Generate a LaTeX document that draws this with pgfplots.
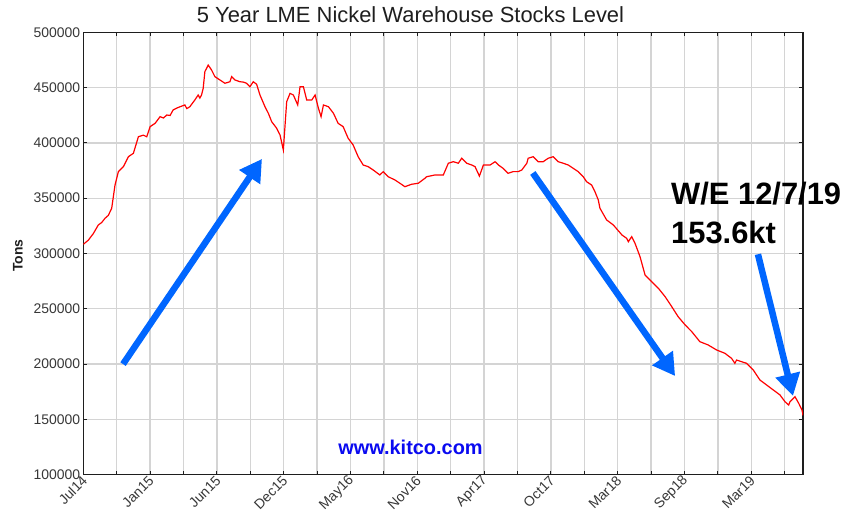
\documentclass[border=0pt]{standalone}
\usepackage{fontspec}
\setmainfont{Liberation Sans}
\usepackage{pgfplots}
\usepackage{pgfplotstable}
\pgfplotsset{compat=1.18}
\usetikzlibrary{arrows.meta}
\definecolor{arrowblue}{RGB}{0,102,255}
\definecolor{gridgray}{RGB}{212,212,212}
\definecolor{kitcoblue}{RGB}{10,10,240}
\definecolor{labgray}{RGB}{30,30,30}
\definecolor{tickgray}{RGB}{55,55,55}

% x: position in grid-line units (0 = Jul14, 2 = Jan15, ...), y: tons
\pgfplotstableread{
u val
0.00 308300
0.15 312000
0.30 318000
0.45 325800
0.55 328000
0.65 331800
0.75 334500
0.85 340900
0.95 362000
1.05 374000
1.20 378500
1.35 387500
1.50 390600
1.65 405600
1.80 407000
1.90 405500
2.00 414700
2.15 417700
2.30 423700
2.40 422500
2.50 425200
2.60 424800
2.69 429800
2.80 431500
2.90 432700
3.04 434300
3.10 431000
3.19 432700
3.34 438800
3.44 443300
3.49 440500
3.54 443300
3.59 449400
3.64 464400
3.74 470400
3.84 465900
3.94 459900
4.09 456900
4.24 453900
4.39 455300
4.44 459900
4.54 456900
4.69 455300
4.79 455000
4.89 453900
4.99 450800
5.09 455300
5.19 453000
5.29 443300
5.44 432700
5.54 426800
5.64 419200
5.79 413200
5.89 407200
5.99 393600
6.09 437300
6.19 444800
6.29 443300
6.42 434300
6.49 450800
6.59 450800
6.69 438800
6.84 438800
6.94 443300
7.04 431300
7.12 423700
7.19 434300
7.34 432700
7.49 426800
7.63 417700
7.78 414700
7.93 404200
8.08 398100
8.23 387500
8.38 380000
8.53 378500
8.68 375500
8.88 371000
8.98 374000
9.13 369400
9.33 366500
9.48 363500
9.63 360400
9.83 362600
10.03 363500
10.23 368000
10.28 369400
10.53 371000
10.78 371000
10.93 381600
11.08 383000
11.23 381600
11.33 386100
11.48 381600
11.63 380000
11.73 378500
11.86 370000
11.98 380000
12.18 380000
12.33 383000
12.43 380000
12.57 377000
12.72 372500
12.87 374000
13.02 374000
13.13 375500
13.28 381600
13.32 386100
13.47 387500
13.62 383000
13.77 383000
13.92 386100
14.07 387500
14.22 383000
14.37 381600
14.52 380000
14.67 377000
14.82 374000
14.97 369400
15.07 364900
15.22 361900
15.32 355900
15.42 348400
15.47 340900
15.67 330300
15.87 325800
16.13 316700
16.27 313700
16.32 310700
16.42 315200
16.52 309200
16.67 297100
16.82 280600
16.97 276000
17.22 268500
17.42 261000
17.62 251900
17.81 242900
18.02 235400
18.22 229300
18.46 220300
18.71 217300
18.96 212800
19.21 209800
19.41 205200
19.51 200700
19.56 203700
19.71 202200
19.86 200700
20.06 194700
20.26 185600
20.46 181100
20.66 176600
20.86 172100
21.01 166000
21.12 163000
21.16 166000
21.31 170500
21.42 164600
21.52 158500
21.55 153600
}\nickel

\begin{document}
\begin{tikzpicture}[x=1bp,y=1bp]
\path[use as bounding box] (-83.3,-40.3) rectangle (765.7,474.7);
\begin{axis}[
  at={(0,0)}, anchor=south west,
  scale only axis, width=719.7bp, height=442.4bp,
  xmin=0, xmax=21.55, ymin=100000, ymax=500000,
  xtick={0,2,...,20},
  xticklabels={Jul14,Jan15,Jun15,Dec15,May16,Nov16,Apr17,Oct17,Mar18,Sep18,Mar19},
  minor xtick={1,3,...,21},
  ytick={100000,150000,200000,250000,300000,350000,400000,450000,500000},
  yticklabels={100000,150000,200000,250000,300000,350000,400000,450000,500000},
  scaled y ticks=false, scaled x ticks=false,
  yticklabel style={font=\fontsize{14}{14}\selectfont, text=tickgray, inner xsep=3bp},
  xticklabel style={rotate=45, anchor=east, font=\fontsize{14}{14}\selectfont, text=tickgray, inner sep=3bp, xshift=1.5bp, yshift=-3.5bp},
  grid=both, grid style={gridgray, line width=1.3bp},
  major grid style={gridgray, line width=1.3bp},
  minor grid style={gridgray, line width=1.3bp},
  axis line style={labgray, line width=1.3bp},
  major tick length=4bp, minor tick length=4bp,
  tick style={labgray, line width=1bp},
  tick align=inside,
]
\addplot[red, line width=1.2bp, no markers] table[x=u, y=val] {\nickel};
\draw[arrowblue, line width=6.5bp, -{Triangle[length=22bp,width=24bp]}] (axis cs:1.19,200000) -- (axis cs:5.35,385500);
\draw[arrowblue, line width=6.5bp, -{Triangle[length=22bp,width=24bp]}] (axis cs:13.46,372800) -- (axis cs:17.72,189200);
\draw[arrowblue, line width=6.5bp, -{Triangle[length=22bp,width=24bp]}] (axis cs:20.20,299300) -- (axis cs:21.25,171200);
\end{axis}
\node[anchor=base, inner sep=0pt, font=\fontsize{22}{22}\selectfont, text=labgray] at (327.2,452) {5 Year LME Nickel Warehouse Stocks Level};
\node[rotate=90, inner sep=0pt, font=\fontsize{14}{14}\bfseries\selectfont, text=labgray] at (-65.3,219.2) {Tons};
\node[anchor=base, inner sep=0pt, font=\fontsize{20}{20}\bfseries\selectfont, text=kitcoblue] at (327.2,19.7) {www.kitco.com};
\node[anchor=base west, inner sep=0pt, font=\fontsize{31}{31}\bfseries\selectfont] at (587.7,269.7) {W/E 12/7/19};
\node[anchor=base west, inner sep=0pt, font=\fontsize{31}{31}\bfseries\selectfont] at (587.7,231.4) {153.6kt};
\end{tikzpicture}
\end{document}
